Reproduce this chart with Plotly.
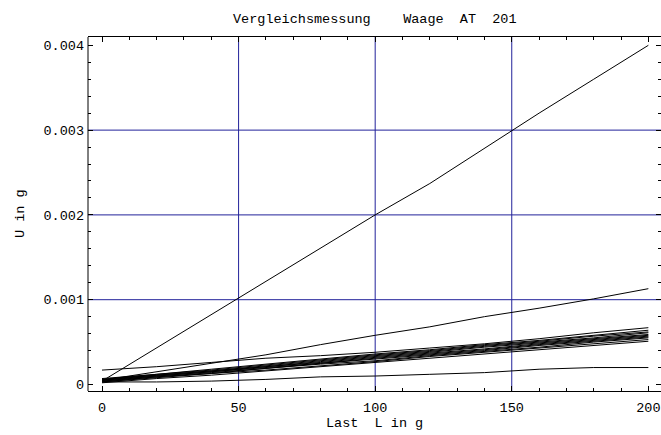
import plotly.graph_objects as go

# Load values (g)
LOAD = [0, 20, 40, 60, 80, 100, 120, 140, 160, 180, 200]

# Measured uncertainties U (g), one list per series
STEEP = [0.00004, 0.00043, 0.00082, 0.00122, 0.00161, 0.00200, 0.00237, 0.00279, 0.00320, 0.00360, 0.00400]
UPPER = [0.00005, 0.00015, 0.00025, 0.00035, 0.00047, 0.00058, 0.00068, 0.00080, 0.00090, 0.00101, 0.00113]
HIGH_START = [0.00017, 0.00021, 0.00026, 0.00031, 0.00034, 0.00038, 0.00043, 0.00048, 0.00054, 0.00061, 0.00067]
LOWEST = [0.00003, 0.00003, 0.00004, 0.00006, 0.00009, 0.00010, 0.00012, 0.00014, 0.00018, 0.00020, 0.00020]
C1 = [0.00002, 0.00007, 0.00011, 0.00016, 0.00021, 0.00026, 0.00031, 0.00036, 0.00041, 0.00046, 0.00051]
C2 = [0.00003, 0.00008, 0.00013, 0.00017, 0.00022, 0.00027, 0.00033, 0.00038, 0.00043, 0.00048, 0.00053]
C3 = [0.00004, 0.00009, 0.00013, 0.00019, 0.00024, 0.00028, 0.00034, 0.00039, 0.00044, 0.00050, 0.00055]
C4 = [0.00003, 0.00009, 0.00014, 0.00019, 0.00025, 0.00030, 0.00035, 0.00040, 0.00046, 0.00051, 0.00056]
C5 = [0.00005, 0.00010, 0.00015, 0.00020, 0.00025, 0.00031, 0.00036, 0.00041, 0.00047, 0.00052, 0.00057]
C6 = [0.00004, 0.00010, 0.00015, 0.00021, 0.00026, 0.00032, 0.00037, 0.00042, 0.00048, 0.00053, 0.00058]
C7 = [0.00006, 0.00011, 0.00016, 0.00021, 0.00027, 0.00033, 0.00038, 0.00044, 0.00049, 0.00054, 0.00059]
C8 = [0.00005, 0.00011, 0.00016, 0.00022, 0.00028, 0.00034, 0.00039, 0.00045, 0.00050, 0.00055, 0.00061]
C9 = [0.00006, 0.00012, 0.00017, 0.00023, 0.00029, 0.00035, 0.00040, 0.00046, 0.00051, 0.00057, 0.00062]
C10 = [0.00007, 0.00012, 0.00018, 0.00024, 0.00030, 0.00036, 0.00041, 0.00047, 0.00052, 0.00058, 0.00064]

SERIES = [STEEP, UPPER, HIGH_START, LOWEST, C1, C2, C3, C4, C5, C6, C7, C8, C9, C10]

X_TICKS = [0, 50, 100, 150, 200]
X_TICK_LABELS = ["0", "50", "100", "150", "200"]
Y_TICKS = [0, 0.001, 0.002, 0.003, 0.004]
Y_TICK_LABELS = ["0", "0.001", "0.002", "0.003", "0.004"]
GRID_X = [50, 100, 150]
GRID_Y = [0.001, 0.002, 0.003]

TITLE = "Vergleichsmessung    Waage  AT  201"
X_TITLE = "Last  L in g"
Y_TITLE = "U in g"

FONT = "Liberation Mono, Courier New, monospace"
FS = 13.5
GRID_COLOR = "#22229a"

fig = go.Figure()
for s in SERIES:
    fig.add_trace(go.Scatter(x=LOAD, y=s, mode="lines",
                             line=dict(color="black", width=1),
                             showlegend=False, hoverinfo="skip"))

shapes = []
for gx in GRID_X:
    shapes.append(dict(type="line", xref="x", yref="paper", x0=gx, x1=gx, y0=0, y1=1,
                       line=dict(color=GRID_COLOR, width=1), layer="below"))
for gy in GRID_Y:
    shapes.append(dict(type="line", xref="paper", yref="y", x0=0, x1=1, y0=gy, y1=gy,
                       line=dict(color=GRID_COLOR, width=1), layer="below"))
# left frame line
shapes.append(dict(type="line", xref="paper", yref="paper", x0=0, x1=0, y0=0, y1=1,
                   line=dict(color="black", width=1), layer="above"))

fig.update_layout(
    width=661, height=435,
    margin=dict(l=88, r=0, t=37, b=44, autoexpand=False),
    paper_bgcolor="white", plot_bgcolor="white",
    font=dict(family=FONT, size=FS, color="black"),
    shapes=shapes,
    annotations=[
        dict(text=TITLE.replace(" ", "\u00a0"), xref="paper", yref="paper", x=0.5, y=1,
             yshift=18, xanchor="center", yanchor="middle", showarrow=False,
             font=dict(family=FONT, size=FS, color="black")),
        dict(text=X_TITLE.replace(" ", "\u00a0"), xref="paper", yref="paper", x=0.5, y=0,
             yshift=-32, xanchor="center", yanchor="middle", showarrow=False,
             font=dict(family=FONT, size=FS, color="black")),
        dict(text=Y_TITLE.replace(" ", "\u00a0"), xref="paper", yref="paper", x=0, y=0.5,
             xshift=-68, xanchor="center", yanchor="middle", showarrow=False, textangle=-90,
             font=dict(family=FONT, size=FS, color="black")),
    ],
)
fig.update_xaxes(
    range=[-5.125, 204.63], showgrid=False, zeroline=False, automargin=False,
    showline=True, linecolor="black", linewidth=1, mirror="ticks",
    tickmode="array", tickvals=X_TICKS, ticktext=X_TICK_LABELS,
    ticks="inside", ticklen=5, tickcolor="black", tickwidth=1,
    ticklabelstandoff=4, ticklabeloverflow="allow",
    minor=dict(dtick=10, tick0=0, ticks="inside", ticklen=3, tickcolor="black", showgrid=False),
)
fig.update_yaxes(
    range=[-0.0000767, 0.004098], showgrid=False, zeroline=False, automargin=False,
    showline=False, mirror="ticks",
    tickmode="array", tickvals=Y_TICKS, ticktext=Y_TICK_LABELS,
    ticks="inside", ticklen=5, tickcolor="black", tickwidth=1,
    ticklabelstandoff=3,
    minor=dict(dtick=0.0002, tick0=0, ticks="inside", ticklen=3, tickcolor="black", showgrid=False),
)

# remove the default page margin so the figure fills the window exactly
fig.write_html("out.html", config={"displayModeBar": False},
               post_script="document.body.style.margin='0';document.body.style.overflow='hidden';")
